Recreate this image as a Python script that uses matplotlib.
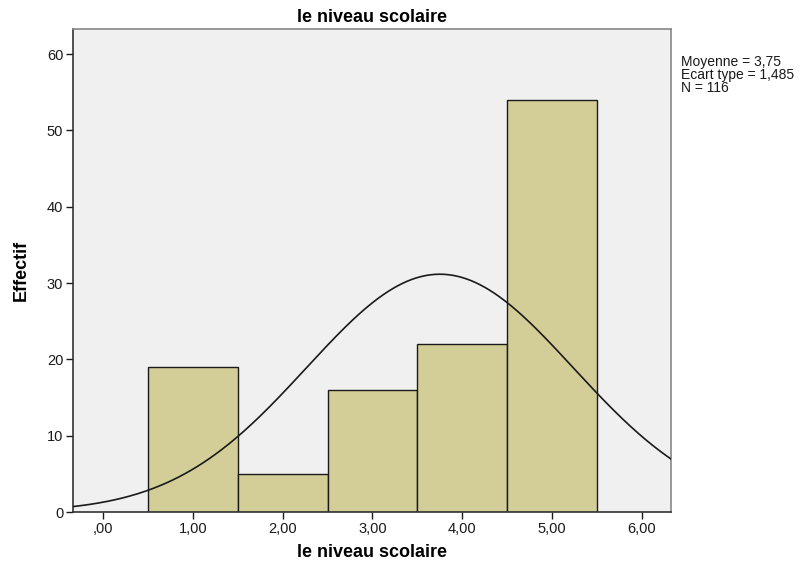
import numpy as np
import matplotlib
matplotlib.use("Agg")
import matplotlib.pyplot as plt

plt.rcParams['font.family'] = ['Liberation Sans', 'DejaVu Sans']

categories = [1, 2, 3, 4, 5]
counts = [19, 5, 16, 22, 54]
mean = 3.75
sd = 1.485
n = 116
xtick_vals = [0, 1, 2, 3, 4, 5, 6]
xtick_labels = [",00", "1,00", "2,00", "3,00", "4,00", "5,00", "6,00"]
ytick_vals = [0, 10, 20, 30, 40, 50, 60]

fig = plt.figure(figsize=(8.11, 5.67), dpi=100)
ax = fig.add_axes([73/811, 1 - 512/567, (671-73)/811, (512-29)/567])
ax.set_facecolor('#f0f0f0')

ax.bar(categories, counts, width=1.0, color='#d3ce97', edgecolor='#1a1a1a', linewidth=1.0, zorder=2)

xs = np.linspace(-0.4, 6.4, 400)
ys = n * 1.0 / (sd * np.sqrt(2 * np.pi)) * np.exp(-0.5 * ((xs - mean) / sd) ** 2)
ax.plot(xs, ys, color='#1a1a1a', linewidth=1.2, zorder=3)

ax.set_xlim(-0.334, 6.323)
ax.set_ylim(0, 63.3)
ax.set_xticks(xtick_vals)
ax.set_xticklabels(xtick_labels)
ax.set_yticks(ytick_vals)
ax.tick_params(direction='out', length=5, width=1, labelsize=10.5, colors='#1a1a1a', pad=2)
for s in ax.spines.values():
    s.set_linewidth(1.2)
    s.set_color('#333333')
ax.spines['top'].set_color('#888888')
ax.spines['right'].set_color('#888888')

ax.set_title('le niveau scolaire', fontsize=13, fontweight='bold', pad=5)
ax.set_xlabel('le niveau scolaire', fontsize=13, fontweight='bold', labelpad=6)
ax.set_ylabel('Effectif', fontsize=13, fontweight='bold', labelpad=12)

fig.text(681/811, 1 - 75/567, 'Moyenne = 3,75\nEcart type = 1,485\nN = 116',
         fontsize=10, va='center', ha='left', linespacing=0.95, color='#1a1a1a')

fig.savefig('out.png', dpi=100)
